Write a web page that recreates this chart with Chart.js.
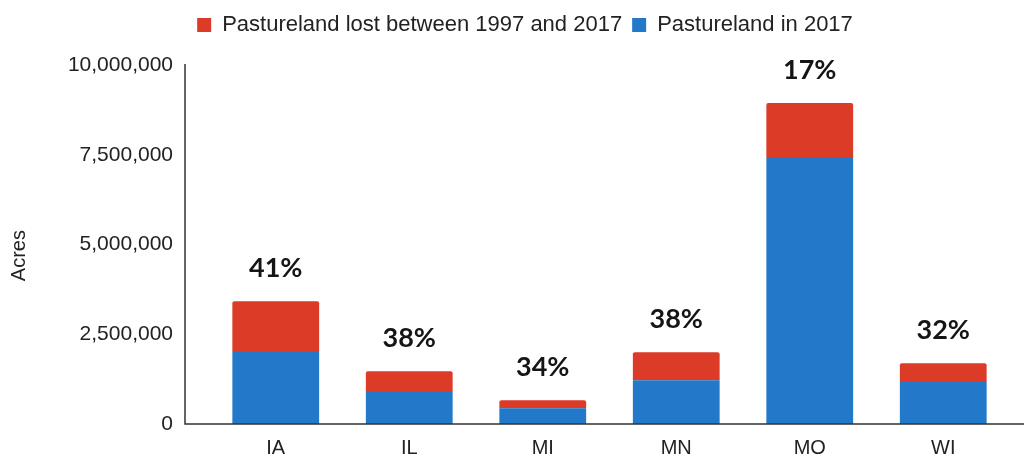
<!DOCTYPE html>
<html>
<head>
<meta charset="utf-8">
<script src="https://cdn.jsdelivr.net/npm/chart.js@4/dist/chart.umd.min.js"></script>
<style>
  body { margin: 0; background: #fff; }
  canvas { display: block; }
</style>
</head>
<body>
<canvas id="chart" width="1024" height="459"></canvas>
<script>
const states = ['IA', 'IL', 'MI', 'MN', 'MO', 'WI'];
const pasture2017 = [2030000, 890000, 440000, 1220000, 7440000, 1170000];
const pastureLost = [1390000, 580000, 225000, 780000, 1500000, 520000];
const lostPercent = ['41%', '38%', '34%', '38%', '17%', '32%'];
const yTicks = [0, 2500000, 5000000, 7500000, 10000000];

const sans = 'Liberation Sans, Arial, sans-serif';

// extra room under the legend, and nudge it right a little
const legendTweak = {
  id: 'legendTweak',
  beforeInit(chart) {
    const fit = chart.legend.fit;
    chart.legend.fit = function () {
      fit.bind(chart.legend)();
      this.height += 19;
    };
  },
  afterLayout(chart) {
    chart.legend.left += 19;
    chart.legend.right += 19;
  }
};

// axis lines start a bit left of the first category, like the original
const axisLines = {
  id: 'axisLines',
  afterDraw(chart) {
    const ctx = chart.ctx;
    const y0 = chart.scales.y.getPixelForValue(0);
    const yTop = chart.scales.y.getPixelForValue(10000000);
    ctx.save();
    ctx.strokeStyle = '#333';
    ctx.lineWidth = 1.5;
    ctx.beginPath();
    ctx.moveTo(185, yTop - 1);
    ctx.lineTo(185, y0);
    ctx.lineTo(chart.width, y0);
    ctx.stroke();
    ctx.restore();
  }
};

// bold percentage above each bar
const percentLabels = {
  id: 'percentLabels',
  afterDatasetsDraw(chart) {
    const ctx = chart.ctx;
    const meta = chart.getDatasetMeta(1);
    ctx.save();
    ctx.font = 'bold 27px Lato, sans-serif';
    ctx.fillStyle = '#151515';
    ctx.textAlign = 'center';
    ctx.textBaseline = 'middle';
    meta.data.forEach((bar, i) => {
      ctx.fillText(lostPercent[i], bar.x, bar.y - 33);
    });
    ctx.restore();
  }
};

new Chart(document.getElementById('chart'), {
  type: 'bar',
  data: {
    labels: states,
    datasets: [
      {
        label: 'Pastureland in 2017',
        data: pasture2017,
        backgroundColor: '#2379c9'
      },
      {
        label: 'Pastureland lost between 1997 and 2017',
        data: pastureLost,
        backgroundColor: '#dc3b27',
        borderRadius: { topLeft: 2, topRight: 2 },
        borderSkipped: 'bottom'
      }
    ]
  },
  options: {
    responsive: false,
    animation: false,
    barPercentage: 0.65,
    categoryPercentage: 1,
    layout: { padding: { top: 4, right: 14, left: 2, bottom: 0 } },
    plugins: {
      legend: {
        reverse: true,
        labels: {
          boxWidth: 14,
          boxHeight: 14,
          padding: 10,
          color: '#222',
          font: { family: sans, size: 22 }
        }
      },
      tooltip: { enabled: false }
    },
    scales: {
      x: {
        stacked: true,
        afterFit: (scale) => {
          scale.height = 35;
        },
        grid: { display: false, drawTicks: false },
        border: { display: false },
        ticks: {
          color: '#222',
          padding: 12,
          font: { family: sans, size: 20 }
        }
      },
      y: {
        stacked: true,
        min: 0,
        max: 10000000,
        afterBuildTicks: (scale) => {
          scale.ticks = yTicks.map((v) => ({ value: v }));
        },
        afterFit: (scale) => {
          scale.width = 207;
          // the wide tick padding should not push the plot vertically
          scale.paddingTop = 0;
          scale.paddingBottom = 0;
        },
        grid: { display: false, drawTicks: false },
        border: { display: false },
        ticks: {
          color: '#222',
          padding: 36,
          font: { family: sans, size: 21 },
          callback: (v) => v.toLocaleString('en-US')
        },
        title: {
          display: true,
          text: 'Acres    ',
          color: '#222',
          padding: { top: 5, bottom: 0 },
          font: { family: sans, size: 20 }
        }
      }
    }
  },
  plugins: [legendTweak, axisLines, percentLabels]
});
</script>
</body>
</html>
